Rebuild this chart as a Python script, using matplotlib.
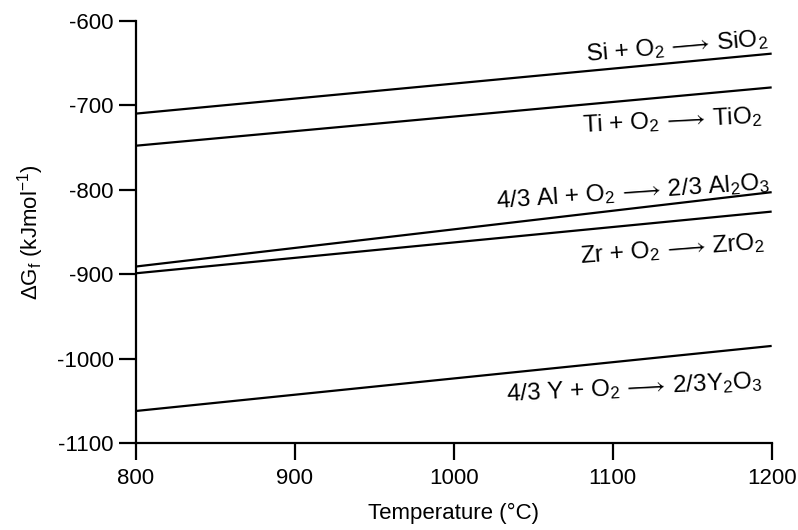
import matplotlib
matplotlib.use("Agg")
import matplotlib.pyplot as plt

plt.rcParams['font.family'] = ['Liberation Sans', 'DejaVu Sans']
plt.rcParams['mathtext.fontset'] = 'custom'
plt.rcParams['mathtext.rm'] = 'Liberation Sans'
plt.rcParams['mathtext.it'] = 'Liberation Sans'
plt.rcParams['mathtext.cal'] = 'STIXGeneral'
plt.rcParams['mathtext.fallback'] = 'stixsans'
plt.rcParams['axes.unicode_minus'] = False

temps = [800, 1200]
si = [-710, -639]
ti = [-748, -679]
al = [-891, -803]
zr = [-899, -826]
y_ = [-1062, -985]

ARW = r'$\,\mathcal{\longrightarrow}\,$'
labels = [
    r'Si + O$_\mathregular{2}$' + ARW + r'SiO$_\mathregular{2}$',
    r'Ti + O$_\mathregular{2}$' + ARW + r'TiO$_\mathregular{2}$',
    r'4/3 Al + O$_\mathregular{2}$' + ARW + r'2/3 Al$_\mathregular{2}$O$_\mathregular{3}$',
    r'Zr + O$_\mathregular{2}$' + ARW + r'ZrO$_\mathregular{2}$',
    r'4/3 Y + O$_\mathregular{2}$' + ARW + r'2/3Y$_\mathregular{2}$O$_\mathregular{3}$',
]
label_pos = [(1197.7, -629.6), (1193.9, -720.6), (1198.9, -799.6),
             (1195.8, -869.5), (1194.5, -1034.5)]
label_rot = [5.0, 3.0, 4.0, 4.5, 3.0]

fig = plt.figure(figsize=(7.98, 5.30), dpi=100)
ax = fig.add_axes([0.1704, 0.164, 0.7966, 0.797])

for s in [si, ti, al, zr, y_]:
    ax.plot(temps, s, color='black', lw=1.6, solid_capstyle='butt')

ax.set_xlim(800, 1200)
ax.set_ylim(-1100, -600)
ax.set_xticks([800, 900, 1000, 1100, 1200])
ax.set_yticks([-1100, -1000, -900, -800, -700, -600])
for sp in ['top', 'right']:
    ax.spines[sp].set_visible(False)
for sp in ['left', 'bottom']:
    ax.spines[sp].set_linewidth(1.6)
ax.tick_params(direction='out', length=12, width=1.6, labelsize=16)
ax.tick_params(axis='x', pad=6)
ax.tick_params(axis='y', pad=4)

for lab, (x, y), rot in zip(labels, label_pos, label_rot):
    ax.text(x, y, lab, fontsize=17.5, ha='right', va='baseline',
            rotation=rot, rotation_mode='anchor')

ax.set_xlabel('Temperature (°C)', fontsize=16, labelpad=10)
ax.set_ylabel(r'ΔG$_\mathregular{f}$ (kJmol$^\mathregular{-1}$)', fontsize=16, labelpad=8)

fig.savefig('out.png', dpi=100)
